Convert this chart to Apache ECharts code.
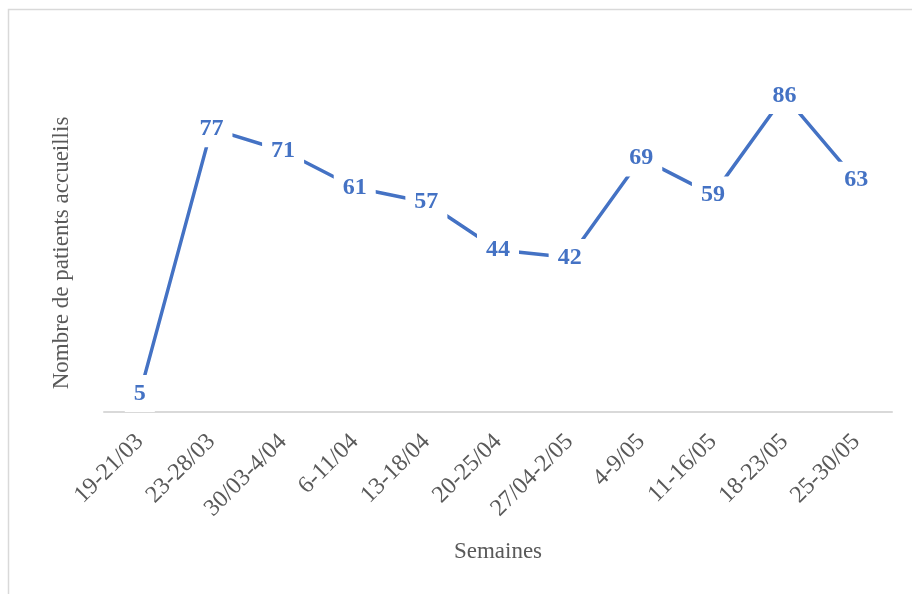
<!DOCTYPE html>
<html>
<head>
<meta charset="utf-8">
<script src="https://cdn.jsdelivr.net/npm/echarts@6/dist/echarts.min.js"></script>
<style>html,body{margin:0;padding:0;background:#fff;}#c{width:912px;height:594px;}</style>
</head>
<body>
<div id="c"></div>
<script>
const categories = ['19-21/03','23-28/03','30/03-4/04','6-11/04','13-18/04','20-25/04','27/04-2/05','4-9/05','11-16/05','18-23/05','25-30/05'];
const patients = [5, 77, 71, 61, 57, 44, 42, 69, 59, 86, 63];
const xTitle = 'Semaines';
const yTitle = 'Nombre de patients accueillis';

const chart = echarts.init(document.getElementById('c'), null, {renderer: 'canvas'});
const serif = '"Liberation Serif", "Times New Roman", serif';
chart.setOption({
  animation: false,
  backgroundColor: '#fff',
  grid: {left: 104, right: 20, top: 44, bottom: 182, containLabel: false},
  graphic: [
    {type: 'rect', shape: {x: 8.5, y: 9.5, width: 1000, height: 1000}, style: {fill: 'none', stroke: '#d9d9d9', lineWidth: 1.5}, silent: true, z: -10},
    {type: 'text', x: 62, y: 253, rotation: Math.PI / 2, style: {text: yTitle, font: '23px ' + serif, fill: '#595959', textAlign: 'center', textVerticalAlign: 'middle'}}
  ],
  xAxis: {
    type: 'category',
    data: categories,
    boundaryGap: true,
    axisLine: {lineStyle: {color: '#d9d9d9', width: 2}},
    axisTick: {show: false},
    axisLabel: {rotate: 45, interval: 0, color: '#595959', fontFamily: serif, fontSize: 24, margin: 26},
    name: xTitle,
    nameLocation: 'middle',
    nameGap: 128,
    nameTextStyle: {color: '#595959', fontFamily: serif, fontSize: 23}
  },
  yAxis: {
    type: 'value',
    min: 0, max: 100, interval: 20,
    axisLine: {show: false},
    axisTick: {show: false},
    axisLabel: {show: false},
    splitLine: {show: false}
  },
  series: [{
    type: 'line',
    data: patients,
    symbol: 'circle',
    symbolSize: 0.01,
    showSymbol: true,
    lineStyle: {color: '#4472C4', width: 3.5},
    itemStyle: {color: '#4472C4'},
    label: {
      show: true,
      position: 'inside',
      color: '#4472C4',
      fontFamily: serif,
      fontWeight: 'bold',
      fontSize: 24,
      backgroundColor: '#fff',
      padding: [9, 9, 4, 9]
    },
    labelLayout: {hideOverlap: false}
  }]
});
</script>
</body>
</html>
